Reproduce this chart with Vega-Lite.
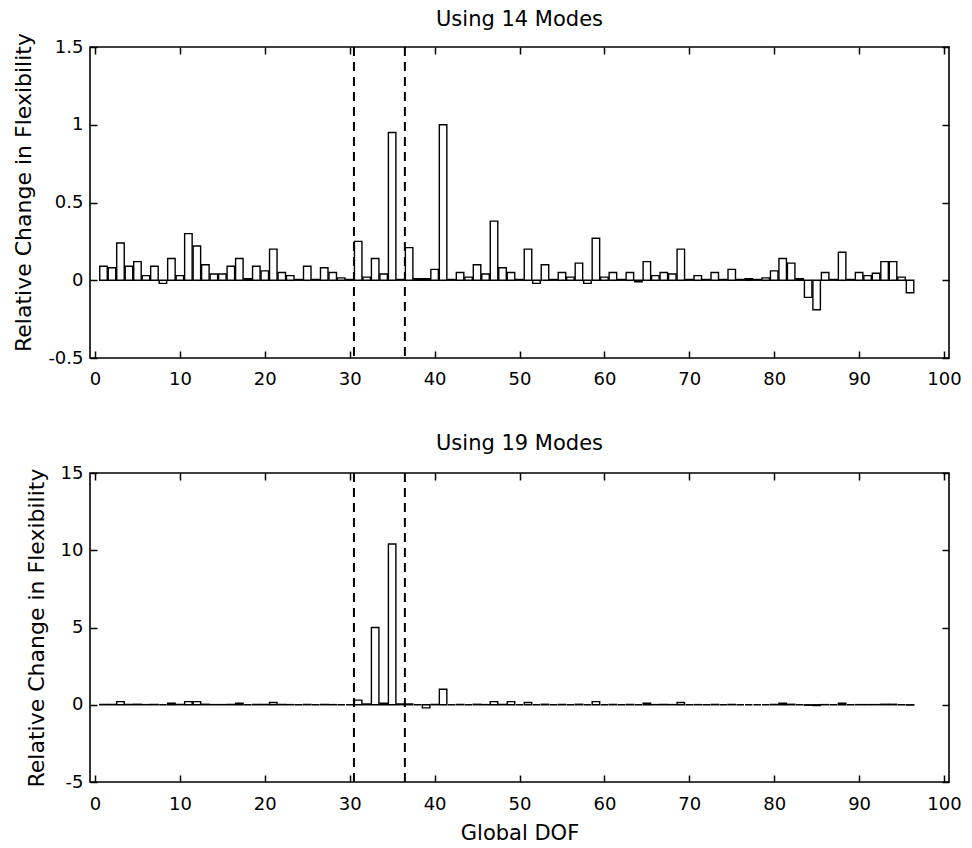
{
  "$schema": "https://vega.github.io/schema/vega-lite/v6.json",
  "background": "white",
  "padding": {"left": 12, "top": 7, "right": 5, "bottom": 5},
  "config": {
    "font": "DejaVu Sans",
    "view": {"stroke": "black", "strokeWidth": 1.6},
    "title": {"fontSize": 21, "fontWeight": "normal", "color": "black", "font": "DejaVu Sans"},
    "axis": {"labelFont": "DejaVu Sans", "titleFont": "DejaVu Sans", "labelFontSize": 18, "titleFontSize": 21, "titleFontWeight": "normal", "labelColor": "black", "titleColor": "black", "grid": false, "domain": false, "tickColor": "black", "tickWidth": 1.5, "tickSize": -7, "minExtent": 0},
    "axisX": {"labelPadding": 19},
    "axisY": {"labelPadding": 14}
  },
  "datasets": {
    "top": [
      {"dof":1,"v":0.09},{"dof":2,"v":0.08},{"dof":3,"v":0.24},{"dof":4,"v":0.09},{"dof":5,"v":0.12},{"dof":6,"v":0.03},{"dof":7,"v":0.09},{"dof":8,"v":-0.02},{"dof":9,"v":0.14},{"dof":10,"v":0.03},
      {"dof":11,"v":0.30},{"dof":12,"v":0.22},{"dof":13,"v":0.10},{"dof":14,"v":0.04},{"dof":15,"v":0.04},{"dof":16,"v":0.09},{"dof":17,"v":0.14},{"dof":18,"v":0.01},{"dof":19,"v":0.09},{"dof":20,"v":0.06},
      {"dof":21,"v":0.20},{"dof":22,"v":0.05},{"dof":23,"v":0.03},{"dof":24,"v":0.005},{"dof":25,"v":0.09},{"dof":26,"v":0.005},{"dof":27,"v":0.08},{"dof":28,"v":0.05},{"dof":29,"v":0.015},{"dof":30,"v":0.005},
      {"dof":31,"v":0.25},{"dof":32,"v":0.02},{"dof":33,"v":0.14},{"dof":34,"v":0.04},{"dof":35,"v":0.95},{"dof":36,"v":0.005},{"dof":37,"v":0.21},{"dof":38,"v":0.01},{"dof":39,"v":0.01},{"dof":40,"v":0.07},
      {"dof":41,"v":1.0},{"dof":42,"v":0.005},{"dof":43,"v":0.05},{"dof":44,"v":0.02},{"dof":45,"v":0.10},{"dof":46,"v":0.04},{"dof":47,"v":0.38},{"dof":48,"v":0.08},{"dof":49,"v":0.05},{"dof":50,"v":0.005},
      {"dof":51,"v":0.20},{"dof":52,"v":-0.02},{"dof":53,"v":0.10},{"dof":54,"v":0.005},{"dof":55,"v":0.05},{"dof":56,"v":0.02},{"dof":57,"v":0.11},{"dof":58,"v":-0.02},{"dof":59,"v":0.27},{"dof":60,"v":0.02},
      {"dof":61,"v":0.05},{"dof":62,"v":0.005},{"dof":63,"v":0.05},{"dof":64,"v":-0.01},{"dof":65,"v":0.12},{"dof":66,"v":0.03},{"dof":67,"v":0.05},{"dof":68,"v":0.04},{"dof":69,"v":0.20},{"dof":70,"v":0.005},
      {"dof":71,"v":0.03},{"dof":72,"v":0.005},{"dof":73,"v":0.05},{"dof":74,"v":0.005},{"dof":75,"v":0.07},{"dof":76,"v":0.005},{"dof":77,"v":0.01},{"dof":78,"v":0.005},{"dof":79,"v":0.015},{"dof":80,"v":0.06},
      {"dof":81,"v":0.14},{"dof":82,"v":0.11},{"dof":83,"v":0.01},{"dof":84,"v":-0.11},{"dof":85,"v":-0.19},{"dof":86,"v":0.05},{"dof":87,"v":0.005},{"dof":88,"v":0.18},{"dof":89,"v":0.005},{"dof":90,"v":0.05},
      {"dof":91,"v":0.03},{"dof":92,"v":0.045},{"dof":93,"v":0.12},{"dof":94,"v":0.12},{"dof":95,"v":0.02},{"dof":96,"v":-0.08}
    ],
    "bottom": [
      {"dof":1,"v":0.02},{"dof":2,"v":0.02},{"dof":3,"v":0.2},{"dof":4,"v":0.02},{"dof":5,"v":0.03},{"dof":6,"v":0.01},{"dof":7,"v":0.02},{"dof":8,"v":0.0},{"dof":9,"v":0.1},{"dof":10,"v":0.02},
      {"dof":11,"v":0.2},{"dof":12,"v":0.2},{"dof":13,"v":0.03},{"dof":14,"v":0.01},{"dof":15,"v":0.01},{"dof":16,"v":0.02},{"dof":17,"v":0.1},{"dof":18,"v":0.0},{"dof":19,"v":0.02},{"dof":20,"v":0.02},
      {"dof":21,"v":0.15},{"dof":22,"v":0.02},{"dof":23,"v":0.01},{"dof":24,"v":0.0},{"dof":25,"v":0.02},{"dof":26,"v":0.0},{"dof":27,"v":0.02},{"dof":28,"v":0.01},{"dof":29,"v":0.0},{"dof":30,"v":0.0},
      {"dof":31,"v":0.3},{"dof":32,"v":0.05},{"dof":33,"v":5.0},{"dof":34,"v":0.1},{"dof":35,"v":10.4},{"dof":36,"v":0.05},{"dof":37,"v":0.05},{"dof":38,"v":0.0},{"dof":39,"v":-0.2},{"dof":40,"v":0.02},
      {"dof":41,"v":1.0},{"dof":42,"v":0.0},{"dof":43,"v":0.02},{"dof":44,"v":0.0},{"dof":45,"v":0.03},{"dof":46,"v":0.01},{"dof":47,"v":0.2},{"dof":48,"v":0.02},{"dof":49,"v":0.2},{"dof":50,"v":0.0},
      {"dof":51,"v":0.15},{"dof":52,"v":0.0},{"dof":53,"v":0.03},{"dof":54,"v":0.0},{"dof":55,"v":0.02},{"dof":56,"v":0.0},{"dof":57,"v":0.03},{"dof":58,"v":0.0},{"dof":59,"v":0.2},{"dof":60,"v":0.0},
      {"dof":61,"v":0.02},{"dof":62,"v":0.0},{"dof":63,"v":0.02},{"dof":64,"v":0.0},{"dof":65,"v":0.1},{"dof":66,"v":0.01},{"dof":67,"v":0.02},{"dof":68,"v":0.01},{"dof":69,"v":0.15},{"dof":70,"v":0.0},
      {"dof":71,"v":0.01},{"dof":72,"v":0.0},{"dof":73,"v":0.02},{"dof":74,"v":0.0},{"dof":75,"v":0.02},{"dof":76,"v":0.0},{"dof":77,"v":0.0},{"dof":78,"v":0.0},{"dof":79,"v":0.0},{"dof":80,"v":0.02},
      {"dof":81,"v":0.1},{"dof":82,"v":0.03},{"dof":83,"v":0.0},{"dof":84,"v":-0.03},{"dof":85,"v":-0.05},{"dof":86,"v":0.01},{"dof":87,"v":0.0},{"dof":88,"v":0.1},{"dof":89,"v":0.0},{"dof":90,"v":0.01},
      {"dof":91,"v":0.01},{"dof":92,"v":0.01},{"dof":93,"v":0.03},{"dof":94,"v":0.03},{"dof":95,"v":0.0},{"dof":96,"v":-0.02}
    ],
    "lines": [{"x": 30.5}, {"x": 36.5}]
  },
  "vconcat": [
    {
      "title": {"text": "Using 14 Modes", "offset": 3},
      "width": 859,
      "height": 311,
      "resolve": {"axis": {"x": "independent", "y": "independent"}},
      "layer": [
        {
          "data": {"name": "top"},
          "mark": {"type": "bar", "fill": "white", "stroke": "black", "strokeWidth": 1.4, "width": 7.5},
          "encoding": {
            "x": {"field": "dof", "type": "quantitative", "scale": {"domain": [0, 100], "nice": false}, "axis": {"values": [0,10,20,30,40,50,60,70,80,90,100], "title": null, "labelFlush": false}},
            "y": {"field": "v", "type": "quantitative", "stack": null, "scale": {"domain": [-0.5, 1.5], "nice": false, "zero": false}, "axis": {"values": [-0.5,0,0.5,1,1.5], "labelExpr": "datum.value + ''", "title": "Relative Change in Flexibility", "titleFontSize": 22, "labelFlush": false, "titlePadding": 12, "titleY": 145}}
          }
        },
        {
          "data": {"name": "lines"},
          "mark": {"type": "rule", "color": "black", "strokeWidth": 2, "strokeDash": [9, 6]},
          "encoding": {"x": {"field": "x", "type": "quantitative", "axis": {"orient": "top", "labels": false, "values": [0,10,20,30,40,50,60,70,80,90,100], "title": null, "maxExtent": 0}}}
        },
        {
          "mark": {"type": "rule", "color": "black", "strokeWidth": 2},
          "encoding": {"y": {"datum": 0, "type": "quantitative", "axis": {"orient": "right", "labels": false, "values": [-0.5,0,0.5,1,1.5], "title": null, "maxExtent": 0}}}
        }
      ]
    },
    {
      "title": {"text": "Using 19 Modes", "offset": 10},
      "width": 859,
      "height": 309,
      "resolve": {"axis": {"x": "independent", "y": "independent"}},
      "layer": [
        {
          "data": {"name": "bottom"},
          "mark": {"type": "bar", "fill": "white", "stroke": "black", "strokeWidth": 1.4, "width": 7.5},
          "encoding": {
            "x": {"field": "dof", "type": "quantitative", "scale": {"domain": [0, 100], "nice": false}, "axis": {"values": [0,10,20,30,40,50,60,70,80,90,100], "title": "Global DOF", "labelFlush": false, "labelPadding": 20, "titlePadding": 9}},
            "y": {"field": "v", "type": "quantitative", "stack": null, "scale": {"domain": [-5, 15], "nice": false, "zero": false}, "axis": {"values": [-5,0,5,10,15], "labelExpr": "datum.value + ''", "title": "Relative Change in Flexibility", "titleFontSize": 22, "labelFlush": false, "titlePadding": 12}}
          }
        },
        {
          "data": {"name": "lines"},
          "mark": {"type": "rule", "color": "black", "strokeWidth": 2, "strokeDash": [9, 6]},
          "encoding": {"x": {"field": "x", "type": "quantitative", "axis": {"orient": "top", "labels": false, "values": [0,10,20,30,40,50,60,70,80,90,100], "title": null, "maxExtent": 0}}}
        },
        {
          "mark": {"type": "rule", "color": "black", "strokeWidth": 2},
          "encoding": {"y": {"datum": 0, "type": "quantitative", "axis": {"orient": "right", "labels": false, "values": [-5,0,5,10,15], "title": null, "maxExtent": 0}}}
        }
      ]
    }
  ],
  "spacing": 43
}
